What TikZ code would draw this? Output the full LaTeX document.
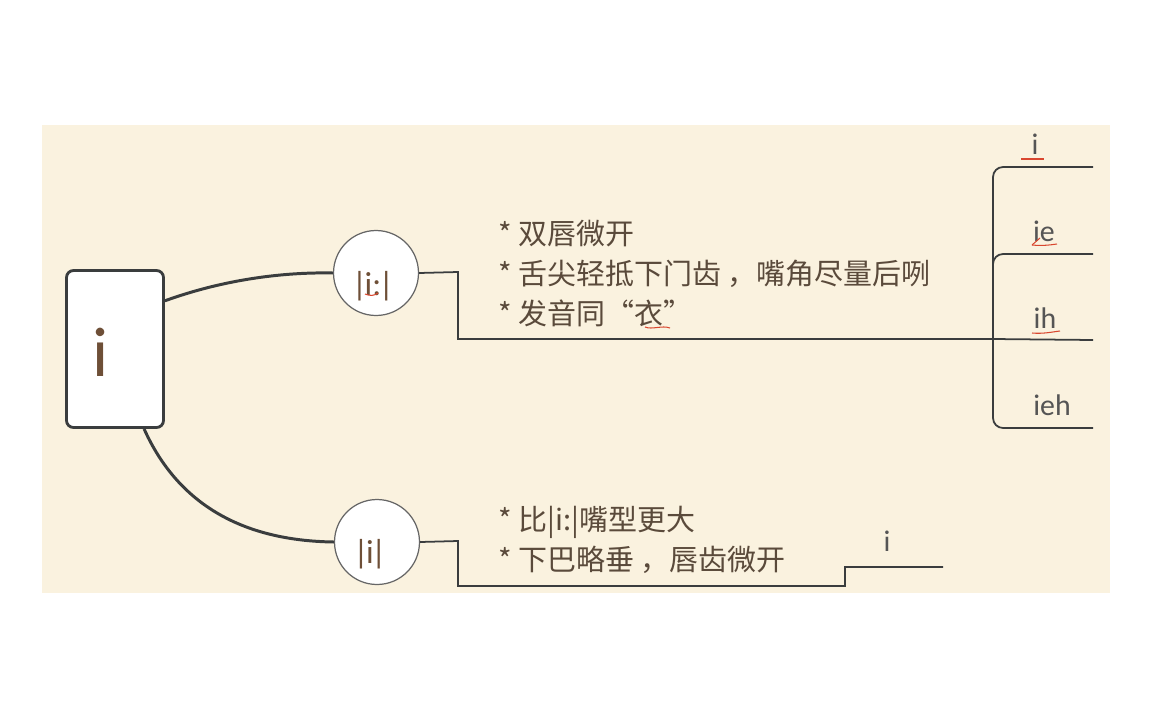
\documentclass[tikz,border=0pt]{standalone}
\usepackage{fontspec}
\setmainfont{Carlito}
\newfontfamily\cjk{Noto Sans CJK SC}
\definecolor{bgc}{HTML}{FAF2DF}
\definecolor{linec}{HTML}{3A3D3E}
\definecolor{txtc}{HTML}{5A4A3B}
\definecolor{bigc}{HTML}{6E4F37}
\definecolor{lblc}{HTML}{555555}
\definecolor{redc}{HTML}{D9472F}
\tikzset{
  rootbox/.style={draw=linec, line width=1.6pt, fill=white, rounded corners=0.14cm,
    minimum width=1.94cm, minimum height=3.14cm, inner sep=0pt},
  circ/.style={circle, draw=gray!80!black, line width=0.7pt, fill=white, minimum size=1.7cm, inner sep=0pt},
  conn/.style={draw=linec, line width=1.7pt},
  thin conn/.style={draw=linec, line width=1.0pt},
  cn/.style={font=\cjk\fontsize{16.5}{19}\selectfont, text=txtc, anchor=base west, inner sep=0pt},
  lbl/.style={font=\fontsize{17}{20}\selectfont, text=lblc, anchor=base, inner sep=0pt},
  ctext/.style={font=\fontsize{19}{22}\selectfont, text=bigc, anchor=base, inner sep=0pt},
  squig/.style={draw=redc, line width=0.6pt},
}
\begin{document}
\begin{tikzpicture}[x=0.02cm,y=-0.02cm]
\useasboundingbox (0,0) rectangle (1152,720);
\fill[white] (0,0) rectangle (1152,720);
\fill[bgc] (42,125) rectangle (1110,593);

% root
\node[rootbox] (root) at (115,349) {};
\node[font=\fontsize{40}{44}\selectfont, text=bigc, anchor=base, inner sep=0pt] (rootlbl) at (101,376) {i};

% circles
\node[circ] (c1) at (376,273) {};
\node[ctext] (c1t) at (373,295) {|\kern-1.5pt i:\kern-1.5pt|};
\node[circ] (c2) at (377,542) {};
\node[ctext] (c2t) at (370,563) {|\kern-1.5pt i\kern-1.5pt|};

% curves from root
\draw[conn] (root.44) .. controls (225,279) and (285,272) .. (c1.west);
\draw[conn] (root.-70) .. controls (185,520) and (265,541) .. (c2.west);

% upper branch
\coordinate (u1) at (458,272);
\coordinate (J) at (993,339);
\draw[thin conn] (c1.east) -- (u1) |- (J);

% right bracket
\coordinate (b1) at (1093,167);
\coordinate (b2) at (1093,254);
\coordinate (b3) at (1093,340);
\coordinate (b4) at (1093,428);
\draw[thin conn, rounded corners=0.2cm] (J) |- (b1);
\draw[thin conn, rounded corners=0.2cm] (J) |- (b2);
\draw[thin conn] (J) -- (b3);
\draw[thin conn, rounded corners=0.2cm] (J) |- (b4);

\node[lbl] (l1) at (1035,154) {i};
\node[lbl] (l2) at (1044,241) {ie};
\node[lbl] (l3) at (1045,328) {ih};
\node[lbl] (l4) at (1052,415) {ieh};

% upper text
\node[cn] (t1) at (498,244) {* 双唇微开};
\node[cn] (t2) at (498,284) {* 舌尖轻抵下门齿 ，嘴角尽量后咧};
\node[cn] (t3) at (498,324) {* 发音同“衣”};

% lower branch
\coordinate (d1) at (458,541);
\coordinate (d2) at (845,586);
\coordinate (d3) at (943,567);
\draw[thin conn] (c2.east) -- (d1) |- (d2) |- (d3);
\node[lbl] (l5) at (887,551) {i};

\node[cn] (t4) at (498,530) {* 比|i:|嘴型更大};
\node[cn] (t5) at (498,570) {* 下巴略垂 ，唇齿微开};

% red spell-check marks
\draw[squig] (365,294) .. controls (370,296) and (374,296) .. (378,293);
\draw[squig] (645,327) .. controls (652,330) and (662,325) .. (670,328);
\draw[squig] (1021,159) -- (1044,159);
\draw[squig] (1032,245) .. controls (1042,246) and (1050,245) .. (1057,244);
\draw[squig] (1032,245) -- (1040,238);
\draw[squig] (1032,333) .. controls (1043,334) and (1052,332) .. (1060,331);
\end{tikzpicture}
\end{document}
